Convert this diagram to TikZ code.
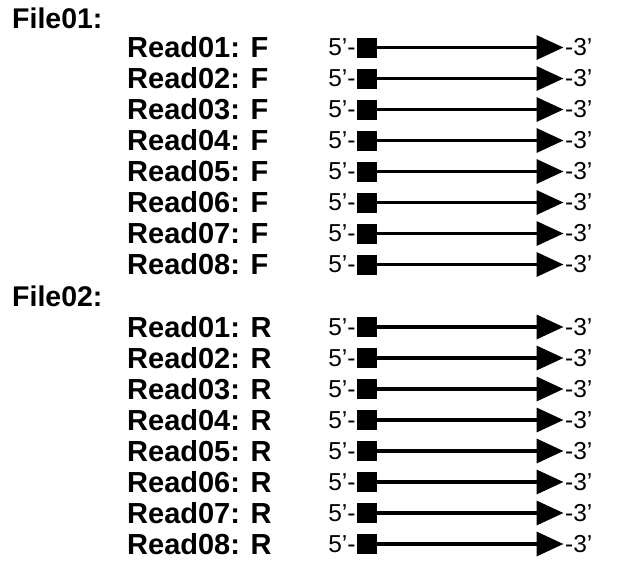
\documentclass[tikz,border=0pt]{standalone}
\usepackage{fontspec}
\setmainfont{Liberation Sans}
\usetikzlibrary{arrows.meta}
\tikzset{
  hdr/.style={anchor=west,inner sep=0pt,font=\fontsize{28.5}{30}\selectfont\bfseries},
  rdlabel/.style={anchor=west,inner sep=0pt,font=\fontsize{29}{30}\selectfont\bfseries},
  endlabel/.style={anchor=east,inner xsep=1pt,inner ysep=0pt,font=\fontsize{24.5}{26}\selectfont},
  endlabelr/.style={anchor=west,inner xsep=1.5pt,inner ysep=0pt,font=\fontsize{24.5}{26}\selectfont},
  sqbox/.style={fill=black,minimum width=20pt,minimum height=20pt,inner sep=0pt},
  strand/.style={line width=3.5pt,-{Triangle[length=27pt,width=24pt]}}
}
\begin{document}
\begin{tikzpicture}[x=1pt,y=-1pt]
\useasboundingbox (0,0) rectangle (633,566);
\node[hdr] (file1) at (12,18) {File01:};
\node[hdr] (file2) at (12,296) {File02:};
\foreach \i in {1,...,8}{
  \pgfmathsetmacro{\yf}{47.5+31*(\i-1)}
  \pgfmathsetmacro{\yr}{327+31*(\i-1)}
  % forward reads
  \node[rdlabel] (fl\i) at (127,\yf) {Read0\i: F};
  \node[sqbox] (fs\i) at (367,\yf) {};
  \node[endlabel] (ff\i) at (fs\i.west) {5’-};
  \node[endlabelr] (ft\i) at (563.5,\yf) {-3’};
  \draw[strand] (fs\i.east) -- (ft\i.west);
  % reverse reads
  \node[rdlabel] (rl\i) at (127,\yr) {Read0\i: R};
  \node[sqbox] (rs\i) at (367,\yr) {};
  \node[endlabel] (rf\i) at (rs\i.west) {5’-};
  \node[endlabelr] (rt\i) at (563.5,\yr) {-3’};
  \draw[strand] (rs\i.east) -- (rt\i.west);
}
\end{tikzpicture}
\end{document}
